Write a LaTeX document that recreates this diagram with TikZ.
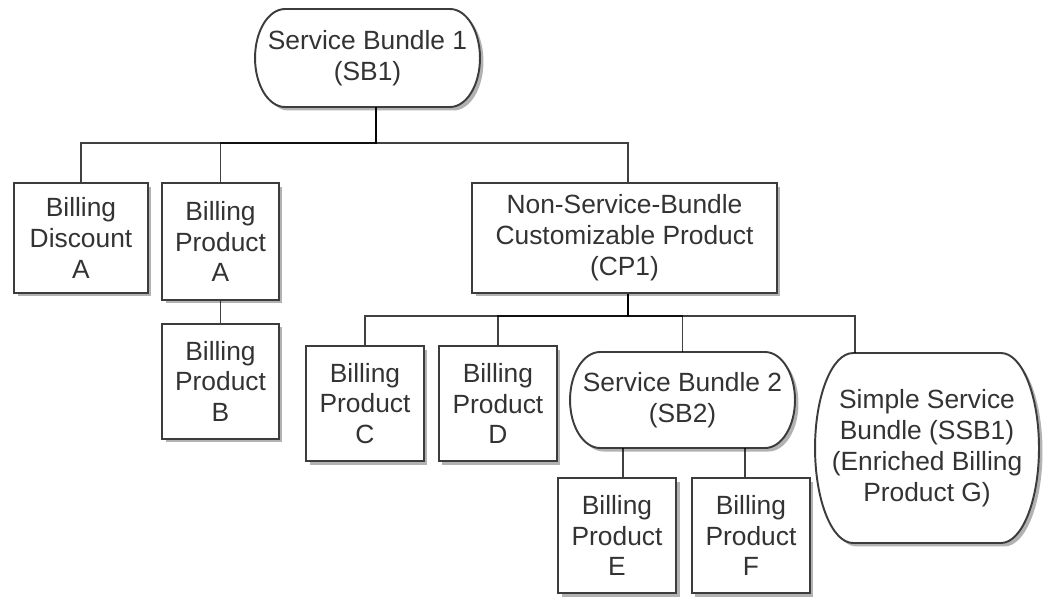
\documentclass[tikz,border=0pt]{standalone}
\usepackage{fontspec}
\setmainfont{Liberation Sans}
\usepackage{tikz}
\usetikzlibrary{positioning,shadows,backgrounds}

\definecolor{linegrey}{HTML}{3C3C3C}
\definecolor{labelgrey}{HTML}{333333}

% outline of a terminator node: flat top/bottom, elliptical ends
\newcommand{\termoutline}[3]{%
  \draw[termline] ([xshift=#2]#1.north west) -- ([xshift=-#2]#1.north east)
    arc[start angle=90, end angle=-90, x radius=#2, y radius=#3]
    -- ([xshift=#2]#1.south west)
    arc[start angle=270, end angle=90, x radius=#2, y radius=#3] -- cycle;}

\begin{document}
\begin{tikzpicture}[x=0.02cm, y=-0.02cm,
        boxshadow/.style = {drop shadow={shadow xshift=0.07cm, shadow yshift=-0.07cm, opacity=0.5, fill=black!60}},
        box/.style  = {rectangle, draw=linegrey, line width=1.1pt, fill=white, inner sep=0pt,
                       align=center, font=\fontsize{15}{17.6}\selectfont, text=labelgrey, boxshadow},
        term/.style = {rectangle, inner sep=0pt, outer sep=0pt,
                       align=center, font=\fontsize{15}{17.6}\selectfont, text=labelgrey},
        termline/.style = {draw=linegrey, line width=1.1pt, fill=white, boxshadow},
        link/.style = {draw=black, draw opacity=0.75, line width=1.1pt}
    ]
    \useasboundingbox (0,0) rectangle (1043,596);

    % level 1
    \node[term, minimum width=4.5cm, minimum height=1.96cm] (sb1) at (367.5,58) {Service Bundle 1\\(SB1)};

    % level 2
    \node[box, minimum width=2.68cm, minimum height=2.2cm] (da) at (81,238) {Billing\\Discount\\A};
    \node[box, minimum width=2.34cm, minimum height=2.34cm] (pa) at (220.5,241.5) {Billing\\Product\\A};
    \node[box, minimum width=2.34cm, minimum height=2.3cm, below=0.44cm of pa] (pb) {Billing\\Product\\B};
    \node[box, minimum width=6.1cm, minimum height=2.2cm] (cp1) at (624.5,238) {Non-Service-Bundle\\Customizable Product\\(CP1)};

    % level 3
    \node[box, minimum width=2.36cm, minimum height=2.3cm] (pc) at (365,403.5) {Billing\\Product\\C};
    \node[box, minimum width=2.36cm, minimum height=2.3cm, right=0.26cm of pc] (pd) {Billing\\Product\\D};
    \node[term, minimum width=4.5cm, minimum height=1.92cm] (sb2) at (682.5,400) {Service Bundle 2\\(SB2)};
    \node[term, minimum width=4.48cm, minimum height=3.8cm] (ssb) at (927,448) {Simple Service\\Bundle (SSB1)\\(Enriched Billing\\Product G)};

    % level 4
    \node[box, minimum width=2.36cm, minimum height=2.3cm] (pe) at (617,535.5) {Billing\\Product\\E};
    \node[box, minimum width=2.36cm, minimum height=2.3cm, right=0.28cm of pe] (pf) {Billing\\Product\\F};

    \begin{scope}[on background layer]
        \termoutline{sb1}{0.6cm}{0.98cm}
        \termoutline{sb2}{0.6cm}{0.96cm}
        \termoutline{ssb}{0.76cm}{1.9cm}
    \end{scope}

    % connectors
    \coordinate (j1) at (376,143);
    \coordinate (j2) at (628,316);
    \foreach \kid in {da,pa}
        \draw[link] (j1 |- sb1.south) -- (j1) -| (\kid.north);
    \draw[link] (j1 |- sb1.south) -- (j1) -| (j2 |- cp1.north);
    \draw[link] (pa) -- (pb);
    \foreach \kid in {pc,pd,sb2}
        \draw[link] (j2 |- cp1.south) -- (j2) -| (\kid.north);
    \draw[link] (j2 |- cp1.south) -- (j2) -| ([xshift=0.8cm]ssb.north west);
    \draw[link] ([xshift=0.12cm]pe.north) -- ([xshift=0.12cm]pe.north |- sb2.south);
    \draw[link] ([xshift=-0.12cm]pf.north) -- ([xshift=-0.12cm]pf.north |- sb2.south);
\end{tikzpicture}
\end{document}
